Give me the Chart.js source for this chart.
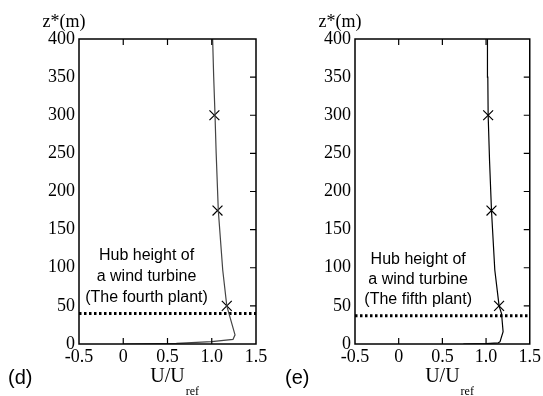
<!DOCTYPE html>
<html>
<head>
<meta charset="utf-8">
<script src="https://cdn.jsdelivr.net/npm/chart.js@4.4.1/dist/chart.umd.min.js"></script>
<style>
	html, body { margin: 0; padding: 0; background: #fff; }
	#wrap { position: relative; width: 543px; height: 396px; overflow: hidden; }
	canvas { position: absolute; top: 0; }
</style>
</head>
<body>
<div id="wrap">
	<canvas id="chartD" width="270" height="396" style="left:0"></canvas>
	<canvas id="chartE" width="273" height="396" style="left:270px"></canvas>
</div>
<script>
'use strict';

// Axis ticks (shared by both panels)
const xTicks = [-0.5, 0, 0.5, 1, 1.5];
const yTicks = [0, 50, 100, 150, 200, 250, 300, 350, 400];

// (d) the fourth plant: velocity profile U/Uref vs height z*
const profileD_U = [0, 0.6, 1.0, 1.24, 1.263, 1.17, 1.124, 1.074, 1.05, 1.037, 1.022, 1.01];
const profileD_z = [0, 0.8, 3, 6, 12, 50, 97, 175, 250, 300, 350, 400];
const markersD_U = [1.17, 1.065, 1.03];
const markersD_z = [50, 175, 300];
const hubD = 40;

// (e) the fifth plant
const profileE_U = [0.74, 1.0, 1.14, 1.16, 1.195, 1.177, 1.149, 1.10, 1.062, 1.04, 1.024, 1.02, 1.016];
const profileE_z = [0, 0.5, 1.5, 3, 16, 40, 50, 97, 175, 240, 300, 350, 400];
const markersE_U = [1.149, 1.062, 1.024];
const markersE_z = [50, 175, 300];
const hubE = 37;

const SERIF = '"Liberation Serif", "Times New Roman", serif';
const SANS = '"Liberation Sans", Arial, sans-serif';

function toPoints(xs, ys) {
	return xs.map(function(x, i){ return { x: x, y: ys[i] }; });
}

// Frame, inward tick marks and the text around each panel
const framePlugin = {
	id: 'frame',
	afterDraw: function(chart) {
		const ctx = chart.ctx;
		const a = chart.chartArea;
		const xs = chart.scales.x;
		const ys = chart.scales.y;
		const o = chart.options.plugins.frame;

		ctx.save();
		ctx.strokeStyle = '#000';
		ctx.lineWidth = 1.5;
		ctx.strokeRect(a.left, a.top, a.right - a.left, a.bottom - a.top);

		ctx.lineWidth = 1.2;
		ctx.beginPath();
		xTicks.slice(1, -1).forEach(function(v){
			const px = xs.getPixelForValue(v);
			ctx.moveTo(px, a.bottom); ctx.lineTo(px, a.bottom - 6);
			ctx.moveTo(px, a.top); ctx.lineTo(px, a.top + 6);
		});
		yTicks.slice(1, -1).forEach(function(v){
			const py = ys.getPixelForValue(v);
			ctx.moveTo(a.right, py); ctx.lineTo(a.right - 6, py);
		});
		ctx.stroke();

		ctx.fillStyle = '#000';
		ctx.textBaseline = 'middle';

		// y title above the axis
		ctx.font = '18px ' + SERIF;
		ctx.textAlign = 'center';
		ctx.fillText('z*(m)', o.yTitleX, 22);

		// x title with subscript
		const cx = (a.left + a.right) / 2;
		ctx.font = '20px ' + SERIF;
		ctx.fillText('U/U', cx, 377);
		const w = ctx.measureText('U/U').width;
		ctx.font = '12px ' + SERIF;
		ctx.textAlign = 'left';
		ctx.fillText('ref', cx + w / 2 + 1, 392);

		// panel letter
		ctx.font = '20px ' + SANS;
		ctx.fillText(o.letter, o.letterX, 378);

		// hub height note
		ctx.font = '16px ' + SANS;
		ctx.textAlign = 'center';
		const nx = xs.getPixelForValue(o.noteU);
		o.note.forEach(function(line, i){
			ctx.fillText(line, nx, o.noteY + i * o.noteGap);
		});
		ctx.restore();
	}
};

function buildChart(id, cfg) {
	return new Chart(document.getElementById(id), {
		type: 'scatter',
		data: {
			datasets: [{
				data: toPoints(cfg.u, cfg.z),
				showLine: true,
				borderColor: cfg.lineColor,
				borderWidth: 1.2,
				pointRadius: 0
			}, {
				data: toPoints(cfg.mu, cfg.mz),
				showLine: false,
				pointStyle: 'crossRot',
				pointRadius: 7,
				borderColor: '#000',
				borderWidth: 1.2
			}, {
				data: [{ x: xTicks[0], y: cfg.hub }, { x: xTicks[xTicks.length - 1], y: cfg.hub }],
				showLine: true,
				borderColor: '#000',
				borderWidth: 3,
				borderDash: [2.5, 2.5],
				pointRadius: 0
			}]
		},
		options: {
			responsive: false,
			animation: false,
			layout: { padding: { top: 39, right: cfg.padRight, left: 0, bottom: 0 } },
			plugins: {
				legend: { display: false },
				tooltip: { enabled: false },
				frame: cfg.frame
			},
			scales: {
				x: {
					type: 'linear',
					min: xTicks[0],
					max: xTicks[xTicks.length - 1],
					afterBuildTicks: function(s){ s.ticks = xTicks.map(function(v){ return { value: v }; }); },
					ticks: { color: '#000', font: { family: SERIF, size: 18 }, padding: 2, maxRotation: 0 },
					grid: { display: false, drawTicks: false },
					border: { display: false },
					afterFit: function(s){ s.height = 52; }
				},
				y: {
					type: 'linear',
					min: yTicks[0],
					max: yTicks[yTicks.length - 1],
					afterBuildTicks: function(s){ s.ticks = yTicks.map(function(v){ return { value: v }; }); },
					ticks: { color: '#000', font: { family: SERIF, size: 18 }, padding: cfg.yPad },
					grid: { display: false, drawTicks: false },
					border: { display: false },
					afterFit: function(s){ s.width = cfg.left; }
				}
			}
		},
		plugins: [framePlugin]
	});
}

buildChart('chartD', {
	u: profileD_U, z: profileD_z, mu: markersD_U, mz: markersD_z, hub: hubD,
	lineColor: '#444', left: 79, padRight: 14, yPad: 4,
	frame: {
		letter: '(d)', letterX: 8, yTitleX: 64,
		noteU: 0.263, noteY: 256, noteGap: 21,
		note: ['Hub height of', 'a wind turbine', '(The fourth plant)']
	}
});

buildChart('chartE', {
	u: profileE_U, z: profileE_z, mu: markersE_U, mz: markersE_z, hub: hubE,
	lineColor: '#000', left: 85, padRight: 13, yPad: 4,
	frame: {
		letter: '(e)', letterX: 15, yTitleX: 70,
		noteU: 0.223, noteY: 260, noteGap: 20,
		note: ['Hub height of', 'a wind turbine', '(The fifth plant)']
	}
});
</script>
</body>
</html>
